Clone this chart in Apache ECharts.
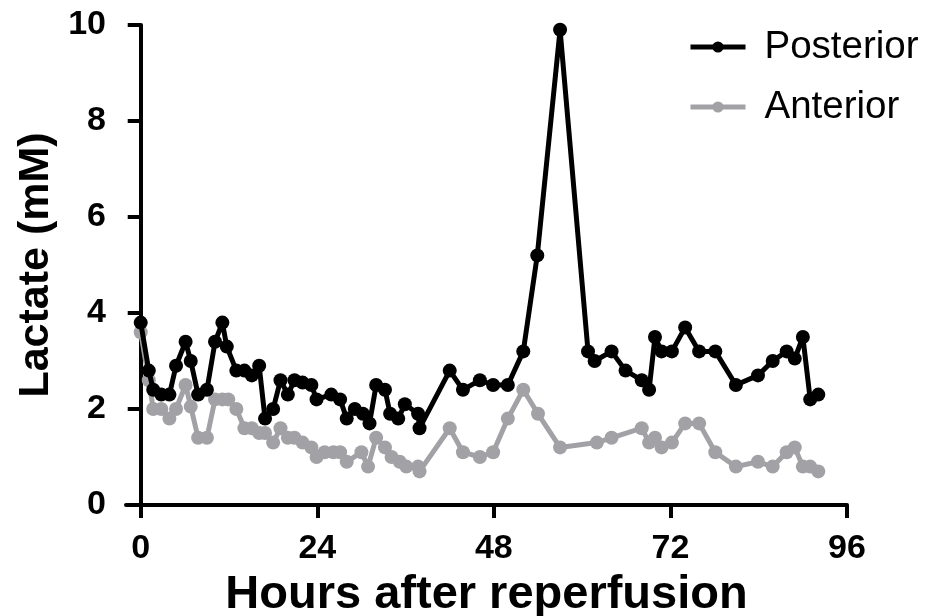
<!DOCTYPE html>
<html>
<head>
<meta charset="utf-8">
<script src="https://cdn.jsdelivr.net/npm/echarts@6/dist/echarts.min.js"></script>
<style>
html,body{margin:0;padding:0;background:#fff;}
#chart{width:936px;height:616px;}
</style>
</head>
<body>
<div id="chart"></div>
<script>
// ---- data ----
var posteriorHours = [0, 1.1, 1.7, 2.8, 3.9, 4.8, 6.1, 6.8, 7.8, 9.0, 10.1, 11.1, 11.7, 13.0, 14.1, 15.1, 16.1, 16.9, 18.0, 19.0, 20.0, 20.9, 22.0, 23.2, 23.9, 25.9, 27.1, 28.0, 29.1, 30.2, 31.1, 32.0, 33.2, 33.9, 35.0, 35.9, 37.7, 37.9, 42.0, 43.8, 46.1, 47.9, 49.9, 52.0, 53.9, 57.0, 60.8, 61.7, 64.0, 65.9, 68.1, 69.1, 69.9, 70.8, 72.2, 74.0, 75.9, 78.1, 80.9, 83.9, 85.9, 87.8, 88.9, 90.0, 91.0, 92.1];
var posteriorLactate = [3.8, 2.8, 2.4, 2.3, 2.3, 2.9, 3.4, 3.0, 2.3, 2.4, 3.4, 3.8, 3.3, 2.8, 2.8, 2.7, 2.9, 1.8, 2.0, 2.6, 2.3, 2.6, 2.55, 2.5, 2.2, 2.3, 2.2, 1.8, 2.0, 1.9, 1.7, 2.5, 2.4, 1.9, 1.8, 2.1, 1.9, 1.6, 2.8, 2.4, 2.6, 2.5, 2.5, 3.2, 5.2, 9.9, 3.2, 3.0, 3.2, 2.8, 2.6, 2.4, 3.5, 3.2, 3.2, 3.7, 3.2, 3.2, 2.5, 2.7, 3.0, 3.2, 3.05, 3.5, 2.2, 2.3];

var anteriorHours = [0, 1.1, 1.7, 2.8, 3.9, 4.8, 6.1, 6.8, 7.8, 9.0, 10.1, 11.1, 11.9, 13.0, 14.1, 15.1, 16.1, 16.9, 18.0, 19.0, 20.0, 20.9, 22.0, 23.2, 23.9, 25.0, 26.2, 27.1, 28.0, 30.0, 30.9, 32.0, 33.2, 34.1, 35.2, 36.1, 37.7, 37.9, 42.0, 43.8, 46.1, 47.9, 49.9, 52.0, 54.0, 57.0, 62.0, 64.0, 68.1, 69.1, 69.9, 70.8, 72.2, 74.0, 75.9, 78.1, 80.9, 83.9, 85.9, 87.8, 88.9, 90.0, 91.0, 92.1];
var anteriorLactate = [3.6, 2.6, 2.0, 2.0, 1.8, 2.0, 2.5, 2.05, 1.4, 1.4, 2.2, 2.2, 2.2, 2.0, 1.6, 1.6, 1.5, 1.5, 1.3, 1.6, 1.4, 1.4, 1.3, 1.2, 1.0, 1.1, 1.1, 1.1, 0.9, 1.1, 0.8, 1.4, 1.2, 1.0, 0.9, 0.8, 0.8, 0.7, 1.6, 1.1, 1.0, 1.1, 1.8, 2.4, 1.9, 1.2, 1.3, 1.4, 1.6, 1.3, 1.4, 1.2, 1.3, 1.7, 1.7, 1.1, 0.8, 0.9, 0.8, 1.1, 1.2, 0.8, 0.8, 0.7];

var xTicks = [0, 24, 48, 72, 96];
var seriesNames = ['Posterior', 'Anterior'];
var xTitle = 'Hours after reperfusion';
var yTitle = 'Lactate (mM)';

function pairs(xs, ys) {
  var out = [];
  for (var i = 0; i < xs.length; i++) out.push([xs[i], ys[i]]);
  return out;
}

var FONT = '"Liberation Sans", Arial, sans-serif';
var chart = echarts.init(document.getElementById('chart'), null, {renderer: 'canvas'});
chart.setOption({
  animation: false,
  backgroundColor: '#ffffff',
  grid: {left: 126, right: 89, top: 25, bottom: 111, containLabel: false, outerBoundsMode: 'none'},
  legend: {
    data: seriesNames,
    orient: 'vertical',
    left: 683,
    top: 20,
    itemWidth: 55,
    itemHeight: 14,
    itemGap: 16,
    lineStyle: {width: 5},
    textStyle: {fontFamily: FONT, fontSize: 38.5, color: '#000', lineHeight: 44, padding: [0, 0, 0, 14]}
  },
  xAxis: {
    type: 'value',
    min: -2,
    max: 96,
    name: xTitle,
    nameLocation: 'middle',
    nameGap: 67,
    nameTextStyle: {fontFamily: FONT, fontSize: 47, fontWeight: 'bold', color: '#000'},
    splitLine: {show: false},
    axisLine: {show: true, lineStyle: {color: '#000', width: 4}},
    axisTick: {show: true, length: 13, lineStyle: {color: '#000', width: 4}, customValues: xTicks},
    axisLabel: {fontFamily: FONT, fontSize: 34, fontWeight: 'bold', color: '#000', margin: 27, customValues: xTicks}
  },
  yAxis: {
    type: 'value',
    min: 0,
    max: 10,
    interval: 2,
    name: yTitle,
    nameLocation: 'middle',
    nameGap: 68,
    nameRotate: 90,
    nameTextStyle: {fontFamily: FONT, fontSize: 43, fontWeight: 'bold', color: '#000'},
    splitLine: {show: false},
    axisLine: {show: true, lineStyle: {color: '#000', width: 4}},
    axisTick: {show: true, length: 13, lineStyle: {color: '#000', width: 4}},
    axisLabel: {fontFamily: FONT, fontSize: 34, fontWeight: 'bold', color: '#000', margin: 20}
  },
  series: [
    {
      name: seriesNames[1],
      type: 'line',
      data: pairs(anteriorHours, anteriorLactate),
      color: '#a2a2a6',
      symbol: 'circle',
      symbolSize: 14,
      lineStyle: {width: 5, color: '#a2a2a6'},
      itemStyle: {color: '#a2a2a6'},
      z: 2
    },
    {
      name: seriesNames[0],
      type: 'line',
      data: pairs(posteriorHours, posteriorLactate),
      color: '#000000',
      symbol: 'circle',
      symbolSize: 14,
      lineStyle: {width: 5, color: '#000000'},
      itemStyle: {color: '#000000'},
      z: 3
    }
  ]
});
</script>
</body>
</html>
